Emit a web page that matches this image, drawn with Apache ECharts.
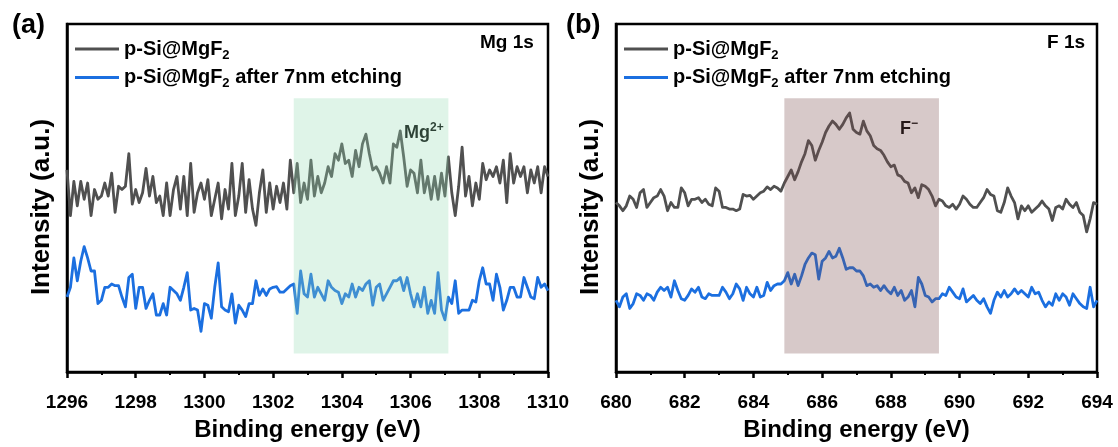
<!DOCTYPE html>
<html><head><meta charset="utf-8">
<script src="https://cdn.jsdelivr.net/npm/echarts@6/dist/echarts.min.js"></script>
<style>html,body{margin:0;padding:0;background:#fff}#c{width:1118px;height:447px}</style>
</head><body><div id="c"></div>
<script>
// ---- data ----
const seriesNames = ['p-Si@MgF2', 'p-Si@MgF2 after 7nm etching'];
const mgStart = 1296, mgEnd = 1310;
const fStart = 680, fEnd = 694;
const energyStep = 0.1;
const tickInterval = 2;
const mgBand = [1302.6, 1307.1];
const fBand = [684.9, 689.4];
const bandIntensity = [57, 840];
const yRange = [0, 1068];

const grayMg = [620,480,585,510,585,530,580,480,560,530,540,580,540,610,490,570,560,570,670,515,
 560,520,550,625,540,600,520,540,480,580,480,560,600,500,600,480,640,490,550,580,
 530,590,480,530,580,470,560,500,640,480,540,640,490,590,500,450,550,620,490,580,
 500,570,520,580,500,650,550,640,520,
 580,530,650,540,600,550,580,630,600,670,650,700,640,650,600,680,630,700,730,670,
 620,630,610,580,630,580,700,690,740,660,570,620,610,550,650,550,600,530,600,530,
 610,540,660,550,480,570,690,540,600,510,580,530,640,590,620,600,630,580,650,520,
 670,580,630,600,630,550,620,580,630,550,630,600];
const blueMg = [230,260,350,280,340,385,350,310,310,210,220,260,260,270,265,265,230,200,290,300,
 195,260,260,195,220,240,175,175,210,175,260,250,240,220,260,305,190,195,190,125,
 210,205,165,260,335,200,190,185,240,150,205,190,170,210,210,280,235,255,235,255,
 260,262,245,245,255,265,
 270,180,310,240,230,300,230,260,240,220,280,260,250,245,210,240,230,270,230,260,
 250,270,280,205,260,270,220,240,260,280,280,290,250,290,240,200,240,200,260,180,
 220,180,305,190,160,230,210,280,180,190,190,190,220,215,280,320,270,270,220,300,
 260,190,220,260,260,230,230,290,260,230,225,290,260,270,250];
const grayF = [520,510,495,510,540,530,505,550,560,505,520,535,540,560,540,495,520,505,505,565,
 550,510,530,530,535,520,530,515,510,565,555,505,505,500,500,495,500,545,540,542,
 530,540,550,555,568,560,570,565,555,
 580,600,620,590,615,645,670,710,695,650,680,705,735,755,770,760,745,760,780,795,
 745,735,730,770,740,725,695,685,680,665,645,630,635,605,600,585,580,550,565,535,
 575,570,560,540,510,
 530,525,510,505,515,500,515,540,530,515,505,505,520,535,560,545,540,495,490,520,
 565,540,520,470,510,495,510,490,500,510,525,510,500,465,505,510,500,530,515,505,
 520,490,480,430,470,520,515];
const blueF = [220,200,230,240,195,210,240,235,220,240,235,220,245,260,250,260,230,280,250,225,
 220,235,255,245,260,230,225,240,235,235,235,260,245,225,240,270,255,220,260,240,
 230,260,230,235,275,250,265,270,270,
 280,305,270,300,265,295,330,350,365,360,285,340,350,370,350,355,380,350,315,320,
 320,310,310,295,265,270,260,265,250,265,250,240,260,235,250,220,230,250,200,290,
 270,235,230,215,225,
 225,240,235,260,245,230,225,255,215,225,235,220,210,225,200,180,220,245,230,250,
 230,240,255,240,250,240,230,260,240,245,220,200,215,205,240,220,240,230,205,240,
 225,210,200,195,260,200,220];

// ---- build ----
function pairs(start, vals) {
  return vals.map((v, i) => [Math.round((start + i * energyStep) * 100) / 100, v]);
}
const FONT = '"Liberation Sans", Arial, sans-serif';
const GRAY = '#505050', BLUE = '#1b6fe0';

function legendFmt(name) {
  if (name === seriesNames[0]) return '{a|p-Si@MgF}{s|2}';
  return '{a|p-Si@MgF}{s|2}{a| after 7nm etching}';
}
const legendRich = {
  a: {fontSize: 20, fontWeight: 'bold', fontFamily: FONT, color: '#000', lineHeight: 25},
  s: {fontSize: 13, fontWeight: 'bold', fontFamily: FONT, color: '#000', lineHeight: 13, verticalAlign: 'bottom'}
};

function xAxisCfg(idx, min, max) {
  return {
    type: 'value', gridIndex: idx, min: min, max: max, interval: tickInterval,
    name: 'Binding energy (eV)', nameLocation: 'middle', nameGap: 46,
    nameTextStyle: {fontSize: 24, fontWeight: 'bold', fontFamily: FONT, color: '#000'},
    axisLine: {show: true, lineStyle: {color: '#000', width: 2.5}},
    axisTick: {show: true, inside: false, length: 6, lineStyle: {color: '#000', width: 2.5}},
    minorTick: {show: true, splitNumber: 2, length: 3, lineStyle: {color: '#000', width: 2}},
    axisLabel: {fontSize: 19, fontWeight: 'bold', fontFamily: FONT, color: '#000', margin: 21,
      formatter: v => String(v)},
    splitLine: {show: false}
  };
}
function yAxisCfg(idx) {
  return {
    type: 'value', gridIndex: idx, min: yRange[0], max: yRange[1],
    axisLine: {show: true, lineStyle: {color: '#000', width: 2.5}},
    axisTick: {show: false}, axisLabel: {show: false}, splitLine: {show: false}
  };
}
function lineSeries(name, xi, data, color) {
  return {
    type: 'line', name: name, xAxisIndex: xi, yAxisIndex: xi, data: data,
    showSymbol: false, symbol: 'none', z: 1,
    lineStyle: {color: color, width: 2.8, join: 'round'}, itemStyle: {color: color},
    animation: false
  };
}
function bandSeries(xi, band, color) {
  return {
    type: 'line', xAxisIndex: xi, yAxisIndex: xi, data: [], z: 5, animation: false,
    markArea: {silent: true, z: 10, itemStyle: {color: color},
      data: [[{xAxis: band[0], yAxis: bandIntensity[0]}, {xAxis: band[1], yAxis: bandIntensity[1]}]]}
  };
}
function txt(left, top, text, size, rich) {
  return {type: 'text', left: left, top: top, z: 10,
    style: {text: text, fontSize: size, fontWeight: 'bold', fontFamily: FONT, fill: '#000', rich: rich}};
}
function yTitle(x, y) {
  return {type: 'text', x: x, y: y, rotation: Math.PI / 2, z: 10,
    style: {text: 'Intensity (a.u.)', fontSize: 26, fontWeight: 'bold', fontFamily: FONT, fill: '#000',
      align: 'center', verticalAlign: 'middle'}};
}
const supRich = {
  a: {fontSize: 18, fontWeight: 'bold', fontFamily: FONT, lineHeight: 22},
  p: {fontSize: 12, fontWeight: 'bold', fontFamily: FONT, lineHeight: 12, verticalAlign: 'top'}
};

const chart = echarts.init(document.getElementById('c'), null, {renderer: 'canvas'});
chart.setOption({
  animation: false,
  backgroundColor: '#fff',
  grid: [
    {left: 67, right: 570, top: 24, bottom: 67, show: true, borderColor: '#000', borderWidth: 2.5, backgroundColor: 'transparent'},
    {left: 616, right: 21, top: 24, bottom: 67, show: true, borderColor: '#000', borderWidth: 2.5, backgroundColor: 'transparent'}
  ],
  xAxis: [xAxisCfg(0, mgStart, mgEnd), xAxisCfg(1, fStart, fEnd)],
  yAxis: [yAxisCfg(0), yAxisCfg(1)],
  legend: [
    {data: seriesNames, orient: 'vertical', left: 70, top: 34, itemGap: 6, itemWidth: 44, itemHeight: 3,
     icon: 'rect', formatter: legendFmt, textStyle: {rich: legendRich}},
    {data: seriesNames, orient: 'vertical', left: 619, top: 34, itemGap: 6, itemWidth: 44, itemHeight: 3,
     icon: 'rect', formatter: legendFmt, textStyle: {rich: legendRich}}
  ],
  series: [
    lineSeries(seriesNames[0], 0, pairs(mgStart, grayMg), GRAY),
    lineSeries(seriesNames[1], 0, pairs(mgStart, blueMg), BLUE),
    bandSeries(0, mgBand, 'rgba(150,220,180,0.3)'),
    lineSeries(seriesNames[0], 1, pairs(fStart, grayF), GRAY),
    lineSeries(seriesNames[1], 1, pairs(fStart, blueF), BLUE),
    bandSeries(1, fBand, 'rgba(122,75,75,0.3)')
  ],
  graphic: [
    yTitle(42, 207),
    yTitle(591, 207),
    txt(12, 12, '(a)', 27),
    txt(566, 12, '(b)', 27),
    txt(480, 33, 'Mg 1s', 19),
    txt(1047, 33, 'F 1s', 19),
    txt(404, 122, '{a|Mg}{p|2+}', 18, supRich),
    txt(900, 118, '{a|F}{p|\u2212}', 18, supRich)
  ]
});
</script></body></html>
